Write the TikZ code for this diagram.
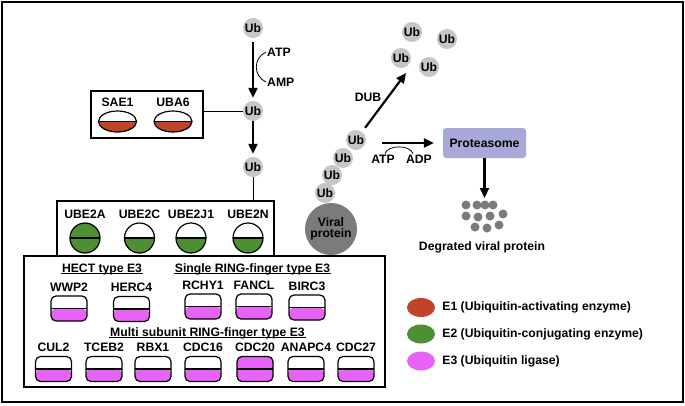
\documentclass[tikz,border=0pt]{standalone}
\usepackage{fontspec}
\setmainfont{Liberation Sans}
\usetikzlibrary{positioning,shapes.geometric,arrows.meta}
\definecolor{ubgray}{HTML}{C6C6C6}
\definecolor{virgray}{HTML}{7B7B7B}
\definecolor{eonered}{HTML}{C0432B}
\definecolor{etwogreen}{HTML}{4F8F33}
\definecolor{ethreepink}{HTML}{E663F5}
\definecolor{protblue}{HTML}{A8A9D9}
\newcommand\lblfont{\fontsize{12.2}{13}\selectfont\bfseries}

\begin{document}
\begin{tikzpicture}[%
  x=1pt, y=-1pt,
  lbl/.style={font=\lblfont, inner sep=1pt},
  ub/.style={circle, fill=ubgray, minimum size=20pt, inner sep=0pt, font=\lblfont},
  arr/.style={line width=2.2pt, -{Triangle[width=9pt,length=10pt]}},
  panel/.style={draw, line width=1.2pt, fill=white, inner sep=0pt},
  uline/.style={line width=0.9pt},
  halfpic/.style={path picture={%
      \fill[#1] (path picture bounding box.west) rectangle (path picture bounding box.south east);
      \draw[line width=1.2pt] (path picture bounding box.west) -- (path picture bounding box.east);}},
  eone/.style={ellipse, draw, line width=1.2pt, inner sep=0pt, minimum width=38pt, minimum height=21pt, halfpic=eonered},
  etwo/.style={circle, draw, line width=1.2pt, inner sep=0pt, minimum size=30pt, halfpic=etwogreen},
  ethree/.style={rectangle, rounded corners=5pt, draw, line width=1.2pt, inner sep=0pt, minimum width=36pt, minimum height=25pt, halfpic=ethreepink},
  key/.style={ellipse, inner sep=0pt, minimum width=28pt, minimum height=19pt},
  piece/.style={circle, fill=virgray, inner sep=0pt, minimum size=9pt}]
\useasboundingbox (0,0) rectangle (685,405);
\draw[line width=2pt] (2,2) rectangle (683,402);

% ubiquitin activation
\node[ub] (ub1) at (253,28) {Ub};
\node[ub] (ub2) at (253,111) {Ub};
\node[ub] (ub3) at (253,167) {Ub};
\node[lbl, anchor=west] (atp1) at (266,52) {ATP};
\node[lbl, anchor=west] (amp) at (266,82) {AMP};
\draw[arr, shorten <=4pt, shorten >=3pt] (ub1) -- (ub2);
\draw[line width=0.8pt] (atp1.west) .. controls +(-13,6) and +(-13,-6) .. (amp.west);
\draw[arr, shorten >=3pt] (ub2) -- (ub3);

% E1
\node[panel, minimum width=112pt, minimum height=47pt] (e1box) at (147,114.5) {};
\node[eone] (sae1) at (117.5,121.5) {};
\node[eone] (uba6) at (173,121.5) {};
\node[lbl, above=3pt of sae1] (sae1l) {SAE1};
\node[lbl, above=3pt of uba6] (uba6l) {UBA6};
\draw[line width=0.8pt] (ub2) -- (ub2 -| e1box.east);

% E2
\node[panel, minimum width=217pt, minimum height=55pt] (e2box) at (165.5,228.5) {};
\draw[line width=0.8pt] (ub3) -- (ub3 |- e2box.north);
\node[etwo, fill=etwogreen] (ube2a) at (85,238) {};
\node[etwo] (ube2c) at (139.5,238) {};
\node[etwo] (ube2j1) at (191,238) {};
\node[etwo] (ube2n) at (248,238) {};
\node[lbl, above=3pt of ube2a] (ube2al) {UBE2A};
\node[lbl, above=3pt of ube2c] (ube2cl) {UBE2C};
\node[lbl, above=3pt of ube2j1] (ube2j1l) {UBE2J1};
\node[lbl, above=3pt of ube2n] (ube2nl) {UBE2N};

% E3
\node[panel, minimum width=361pt, minimum height=131pt] (e3box) at (204.5,321.5) {};
\node[lbl] (hect) at (102,269) {HECT type E3};
\node[lbl] (single) at (252.5,269) {Single RING-finger type E3};
\node[lbl] (multi) at (207.5,333) {Multi subunit RING-finger type E3};
\draw[uline] ([yshift=-1.2pt]hect.base west) -- ([yshift=-1.2pt]hect.base east);
\draw[uline] ([yshift=-1.2pt]single.base west) -- ([yshift=-1.2pt]single.base east);
\draw[uline] ([yshift=-1.2pt]multi.base west) -- ([yshift=-1.2pt]multi.base east);
\node[ethree] (wwp2) at (69,308.5) {};
\node[ethree] (herc4) at (131.5,309) {};
\node[ethree] (rchy1) at (203,306.5) {};
\node[ethree] (fancl) at (254,306.5) {};
\node[ethree] (birc3) at (307,307.5) {};
\node[lbl, above=3pt of wwp2] (wwp2l) {WWP2};
\node[lbl, above=3pt of herc4] (herc4l) {HERC4};
\node[lbl, above=3pt of rchy1] (rchy1l) {RCHY1};
\node[lbl, above=3pt of fancl] (fancll) {FANCL};
\node[lbl, above=3pt of birc3] (birc3l) {BIRC3};
\node[ethree] (cul2) at (53.5,369) {};
\node[ethree] (tceb2) at (104,369) {};
\node[ethree] (rbx1) at (153,369) {};
\node[ethree] (cdc16) at (203,369) {};
\node[ethree, fill=ethreepink] (cdc20) at (255,369) {};
\node[ethree] (anapc4) at (306,369) {};
\node[ethree] (cdc27) at (356,369) {};
\node[lbl, above=3pt of cul2] (cul2l) {CUL2};
\node[lbl, above=3pt of tceb2] (tceb2l) {TCEB2};
\node[lbl, above=3pt of rbx1] (rbx1l) {RBX1};
\node[lbl, above=3pt of cdc16] (cdc16l) {CDC16};
\node[lbl, above=3pt of cdc20] (cdc20l) {CDC20};
\node[lbl, above=3pt of anapc4] (anapc4l) {ANAPC4};
\node[lbl, above=3pt of cdc27] (cdc27l) {CDC27};

% viral protein and chain
\node[circle, fill=virgray, minimum size=52pt, inner sep=0pt, align=center, font=\lblfont] (viral) at (331,229) {Viral\\[-2pt]protein};
\node[ub] (ub4) at (325,193) {Ub};
\node[ub] (ub5) at (332,175) {Ub};
\node[ub] (ub6) at (343,158) {Ub};
\node[ub] (ub7) at (356,140) {Ub};

% DUB
\node[ub] (free1) at (412,32) {Ub};
\node[ub] (free2) at (447,39) {Ub};
\node[ub] (free3) at (401,58) {Ub};
\node[ub] (free4) at (429,67) {Ub};
\coordinate (dubend) at (406,73);
\draw[arr, shorten <=5pt] (ub7) -- (dubend);
\node[lbl] (dub) at (368,97) {DUB};

% proteasome
\node[rectangle, rounded corners=3pt, fill=protblue, minimum width=83pt, minimum height=30pt, font=\lblfont] (prot) at (484.5,143) {Proteasome};
\coordinate (hyd) at (382,143);
\draw[arr, shorten >=9pt] (hyd) -- (prot.west);
\node[lbl] (atp2) at (383,159) {ATP};
\node[lbl] (adp) at (419,159) {ADP};
\draw[line width=0.8pt] ([xshift=2pt]atp2.north) .. controls +(3,-9) and +(-3,-9) .. ([xshift=-6pt]adp.north);
\coordinate (degtop) at (484.5,198);
\draw[arr] (prot) -- (degtop);
\foreach \px/\py [count=\i] in {466/205,477/205,485/205,493/205,466/216,478/217,490/216,503/214,475/227,487/228,499/225}
  \node[piece] (deg\i) at (\px,\py) {};
\node[lbl] (degl) at (482,247) {Degrated viral protein};

% legend
\node[key, fill=eonered] (key1) at (421,307.5) {};
\node[key, fill=etwogreen] (key2) at (421,334) {};
\node[key, fill=ethreepink] (key3) at (421,361) {};
\node[lbl, right=6pt of key1] (key1l) {E1 (Ubiquitin-activating enzyme)};
\node[lbl, right=6pt of key2] (key2l) {E2 (Ubiquitin-conjugating enzyme)};
\node[lbl, right=6pt of key3] (key3l) {E3 (Ubiquitin ligase)};
\end{tikzpicture}
\end{document}
